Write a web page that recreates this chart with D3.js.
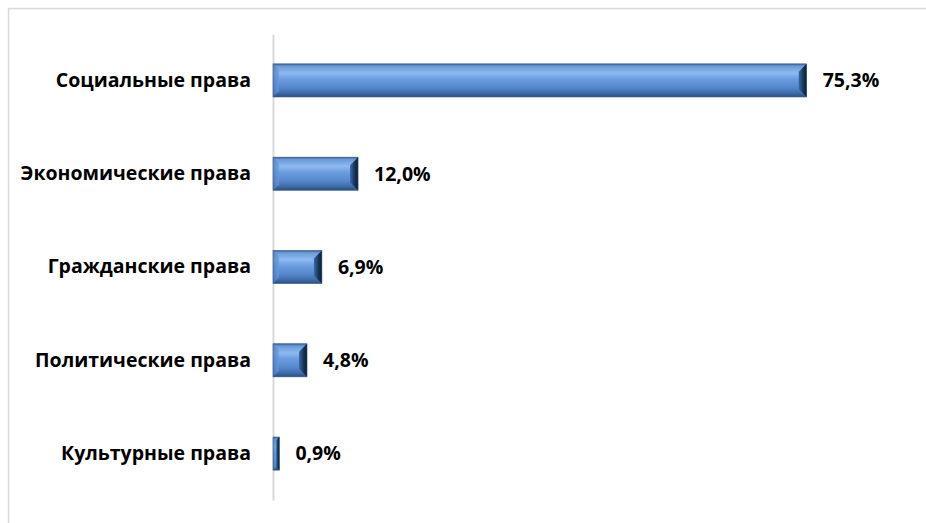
<!DOCTYPE html>
<html><head><meta charset="utf-8">
<script src="https://cdn.jsdelivr.net/npm/d3@7"></script>
<style>
html,body{margin:0;padding:0;background:#fff;}
svg{display:block;}
</style></head>
<body>
<script>
const categories = ["Социальные права","Экономические права","Гражданские права","Политические права","Культурные права"];
const values = [75.3, 12.0, 6.9, 4.8, 0.9];
const valueLabels = ["75,3%","12,0%","6,9%","4,8%","0,9%"];

const W = 926, H = 523;
const FONT = "'Open Sans', 'Noto Sans', sans-serif";
const svg = d3.select("body").append("svg").attr("width", W).attr("height", H);

svg.append("rect").attr("x", 8.5).attr("y", 8.5).attr("width", W).attr("height", H)
  .attr("fill", "#fff").attr("stroke", "#d9d9d9").attr("stroke-width", 1.5);

const defs = svg.append("defs");
const g1 = defs.append("linearGradient").attr("id","barV").attr("x1",0).attr("y1",0).attr("x2",0).attr("y2",1);
[["0%","#3a5f8f"],["7%","#6a9ad8"],["28%","#8dbaf0"],["45%","#6c9de0"],["72%","#5587cc"],["88%","#3f6cab"],["100%","#2c4f7e"]]
  .forEach(([o,c])=>g1.append("stop").attr("offset",o).attr("stop-color",c));
const g2 = defs.append("linearGradient").attr("id","barR").attr("x1",0).attr("y1",0).attr("x2",1).attr("y2",0);
[["0%","#3a6aa6"],["60%","#173352"],["100%","#0c1f30"]].forEach(([o,c])=>g2.append("stop").attr("offset",o).attr("stop-color",c));
const g3 = defs.append("linearGradient").attr("id","barL").attr("x1",0).attr("y1",0).attr("x2",1).attr("y2",0);
[["0%","#4a7cbc"],["100%","#6a9ad8"]].forEach(([o,c])=>g3.append("stop").attr("offset",o).attr("stop-color",c));

const x = d3.scaleLinear().domain([0, 80]).range([273, 840]);
const y = d3.scaleBand().domain(categories).range([34, 500]).paddingInner(0.645).paddingOuter(0.32);

const bars = svg.append("g").selectAll("g").data(categories).join("g");
bars.append("rect")
  .attr("x", x(0)).attr("y", d=>y(d))
  .attr("width", (d,i)=>x(values[i])-x(0)).attr("height", y.bandwidth())
  .attr("fill", "url(#barV)");
bars.append("path")
  .attr("d",(d,i)=>{const w=x(values[i])-x(0), b=Math.min(6,w/2), y0=y(d), h=y.bandwidth();
    return `M${x(0)},${y0} L${x(0)+b},${y0+b} L${x(0)+b},${y0+h-b} L${x(0)},${y0+h} Z`;})
  .attr("fill","url(#barL)").attr("opacity",0.7);
bars.append("path")
  .attr("d",(d,i)=>{const xe=x(values[i]), w=xe-x(0), b=Math.min(8,w/2), y0=y(d), h=y.bandwidth();
    return `M${xe},${y0} L${xe-b},${y0+b} L${xe-b},${y0+h-b} L${xe},${y0+h} Z`;})
  .attr("fill","url(#barR)");
bars.append("rect")
  .attr("x", x(0)).attr("y", d=>y(d))
  .attr("width", (d,i)=>x(values[i])-x(0)).attr("height", y.bandwidth())
  .attr("fill", "none").attr("stroke","#34588a").attr("stroke-width",0.6);

svg.append("g").selectAll("text").data(categories).join("text")
  .attr("x",(d,i)=>x(values[i])+16).attr("y",d=>y(d)+y.bandwidth()/2)
  .attr("dy","0.35em")
  .attr("font-family",FONT).attr("font-weight","bold")
  .attr("font-size",19.5).attr("fill","#000")
  .text((d,i)=>valueLabels[i]);

const axis = d3.axisLeft(y).tickSize(0).tickPadding(22);
const ag = svg.append("g").attr("transform",`translate(${x(0)},0)`).call(axis);
ag.select(".domain").attr("stroke","#d9d9d9").attr("stroke-width",2);
ag.selectAll("text").attr("font-family",FONT)
  .attr("font-weight","bold").attr("font-size",19.5).attr("fill","#000");
ag.lower(); svg.select("rect").lower();
</script>
</body></html>
